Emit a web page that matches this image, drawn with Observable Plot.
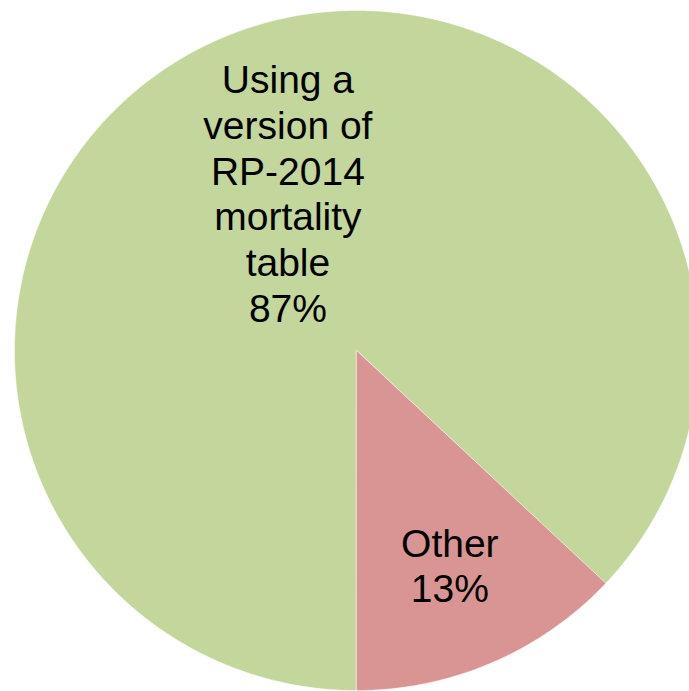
<!DOCTYPE html>
<html>
<head>
<meta charset="utf-8">
<script src="https://cdn.jsdelivr.net/npm/d3@7"></script>
<script src="https://cdn.jsdelivr.net/npm/@observablehq/plot@0.6"></script>
<style>
  html, body { margin: 0; padding: 0; background: #ffffff; overflow: hidden; }
  #chart svg { display: block; }
</style>
</head>
<body>
<div id="chart"></div>
<script>
// Slice data
const categories = ["Using a version of RP-2014 mortality table", "Other"];
const shares = [87, 13];
const labelLines = ["Using a\nversion of\nRP-2014\nmortality\ntable", "Other"];
const sliceColors = ["#c3d69b", "#d99594"];

// Layout (pixels)
const W = 689, H = 691;
const cx = 356, cy = 350;     // pie centre
const rx = 342, ry = 340;     // pie radius along x and y
const labelRadius = [0.505, 0.687]; // label distance from centre, as a fraction of the radius

// Pie angles: clockwise from 12 o'clock, first slice starting at 6 o'clock
const arcs = d3.pie().sort(null).startAngle(Math.PI).endAngle(3 * Math.PI)(shares);

// Each slice as a closed polygon in unit-circle coordinates (y up)
const polys = [];
arcs.forEach((a, i) => {
  const n = Math.max(8, Math.ceil((a.endAngle - a.startAngle) / (Math.PI / 360)));
  polys.push({cat: categories[i], x: 0, y: 0});
  for (let k = 0; k <= n; k++) {
    const t = a.startAngle + (a.endAngle - a.startAngle) * k / n;
    polys.push({cat: categories[i], x: Math.sin(t), y: Math.cos(t)});
  }
});

// Slice labels placed along each slice's mid angle
const labels = arcs.map((a, i) => {
  const m = (a.startAngle + a.endAngle) / 2;
  return {
    cat: categories[i],
    text: `${labelLines[i]}\n${shares[i]}%`,
    x: labelRadius[i] * Math.sin(m),
    y: labelRadius[i] * Math.cos(m)
  };
});

const chart = Plot.plot({
  width: W,
  height: H,
  margin: 0,
  style: {background: "#ffffff", overflow: "hidden"},
  x: {type: "linear", domain: [-cx / rx, (W - cx) / rx], range: [0, W], axis: null},
  y: {type: "linear", domain: [-(H - cy) / ry, cy / ry], range: [H, 0], axis: null},
  color: {domain: categories, range: sliceColors},
  marks: [
    Plot.line(polys, {
      x: "x", y: "y", z: "cat",
      curve: "linear-closed",
      fill: "cat",
      stroke: "#ffffff",
      strokeOpacity: 0.45,
      strokeWidth: 1,
      clip: true
    }),
    Plot.text(labels, {
      x: "x", y: "y", text: "text",
      fontSize: 39,
      fontFamily: "'Liberation Sans', Arial, sans-serif",
      fill: "#000000",
      lineHeight: 1.17,
      textAnchor: "middle",
      lineAnchor: "middle"
    })
  ]
});

document.getElementById("chart").appendChild(chart);
</script>
</body>
</html>
